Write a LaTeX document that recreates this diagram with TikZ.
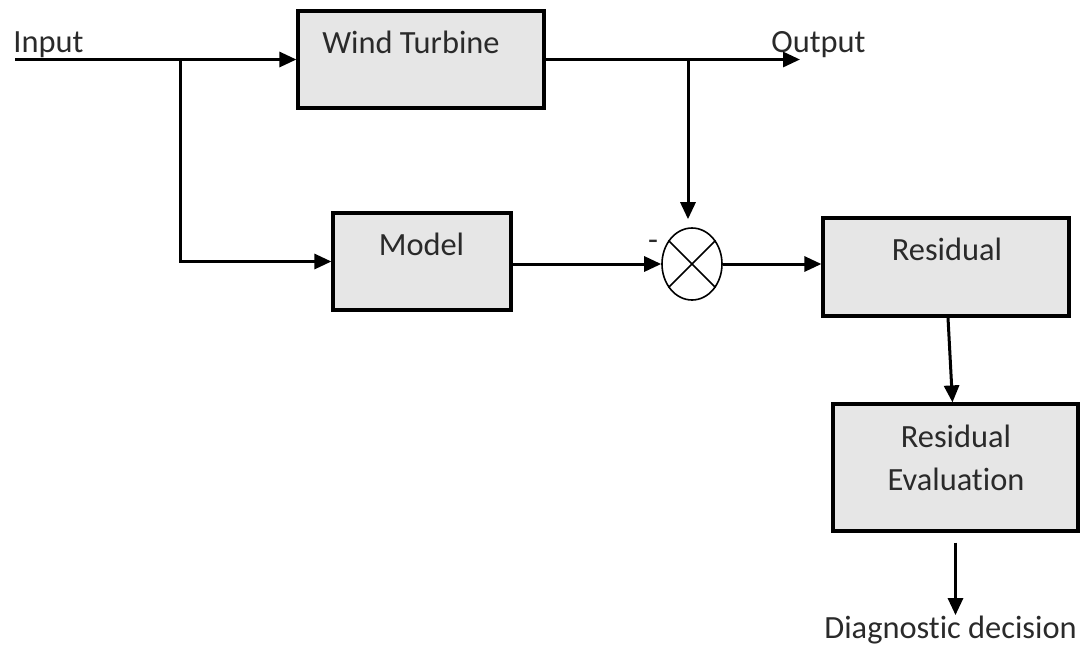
\documentclass[tikz,border=0pt]{standalone}
\usepackage{fontspec}
\setmainfont{Carlito}[Ligatures={NoCommon,NoContextual}]
\usepackage{tikz}
\usetikzlibrary{positioning,arrows.meta,shapes.geometric}

\definecolor{boxgray}{HTML}{E6E6E6}
\definecolor{textgray}{HTML}{2A2A2A}

\begin{document}
\begin{tikzpicture}[
    x=0.5pt, y=-0.5pt,
    font=\fontsize{16.2}{21.5}\selectfont, text=textgray,
    box/.style={rectangle, draw, line width=1.6pt, fill=boxgray, inner sep=0pt},
    txt/.style={inner sep=0pt, anchor=base},
    arrow/.style={-{Triangle[length=8.5pt,width=7.5pt]}, line width=1.5pt}
]
\useasboundingbox (0,0) rectangle (1084,650);

% -------- Blocks --------
\node[box, minimum width=123pt, minimum height=48.5pt] (turbine) at (421,59.5) {};
\node[box, minimum width=89pt, minimum height=48.5pt] (model) at (422,261.5) {};
\node[box, minimum width=123pt, minimum height=49pt] (residual) at (946,267) {};
\node[box, minimum width=122.5pt, minimum height=63.5pt] (evaluation) at (955.5,467.5) {};

\node[ellipse, draw, line width=0.8pt, minimum width=30pt, minimum height=36pt, inner sep=0pt] (sum) at (692,264) {};
\draw[line width=0.8pt] (sum.45) -- (sum.225);
\draw[line width=0.8pt] (sum.135) -- (sum.315);

% -------- Labels --------
\node[txt] (turbine-txt) at (411,53) {Wind Turbine};
\node[txt] (model-txt) at (421.5,255) {Model};
\node[txt] (residual-txt) at (947,260) {Residual};
\node[txt, align=center] (evaluation-txt) at (956,490) {Residual\\Evaluation};
\node[txt, anchor=base west] (input) at (13,52) {Input};
\node[txt, anchor=base west] (output) at (771,52) {Output};
\node[txt, anchor=base west] (decision) at (824,638) {Diagnostic decision};
\node[txt] (minus) at (653,250) {-};

% -------- Connectors --------
\coordinate (in) at (15,59.5);
\coordinate (split) at (180,59.5);
\coordinate (out) at (800,59.5);
\coordinate (tap) at (688,59.5);

\draw[arrow] (in) -- (turbine.west);
\draw[arrow] (split) |- (model.west);
\draw[arrow] (turbine.east) -- (out);
\draw[arrow, shorten >=4pt] (tap) -- (tap |- sum.north);
\draw[arrow] (model.east |- sum.west) -- (sum.west);
\draw[arrow] (sum.east) -- (sum.east -| residual.west);
\draw[arrow] ([xshift=1pt]residual.south) -- ([xshift=-1.5pt]evaluation.north);
\draw[arrow] ([yshift=-5pt]evaluation.south) -- (evaluation.south |- decision.north);

\end{tikzpicture}
\end{document}
